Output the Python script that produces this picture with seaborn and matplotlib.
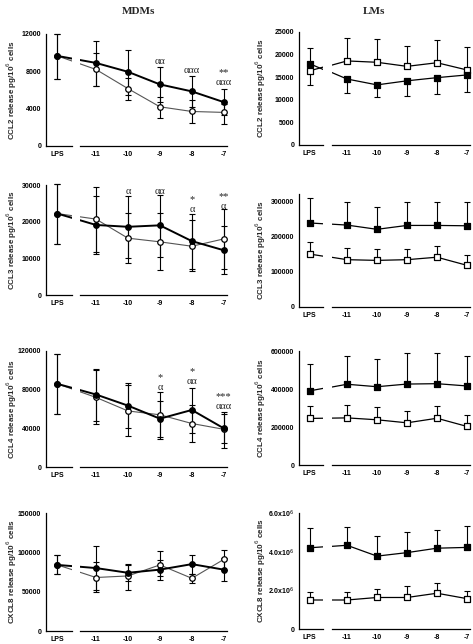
import numpy as np
import pandas as pd
import matplotlib
matplotlib.use("Agg")
import matplotlib.pyplot as plt
import seaborn as sns

sns.set_style("white")
plt.rcParams["font.family"] = ["Liberation Sans", "DejaVu Sans"]

doses = ["LPS", "-11", "-10", "-9", "-8", "-7"]

# CCL2 - MDMs (filled circles / open circles)
ccl2_mdm_filled = [9650, 8900, 7950, 6600, 5850, 4700]
ccl2_mdm_filled_hi = [12000, 11300, 10300, 8500, 7500, 6100]
ccl2_mdm_filled_lo = [7200, 6400, 5500, 4700, 4200, 3300]
ccl2_mdm_open = [9650, 8200, 6150, 4200, 3700, 3600]
ccl2_mdm_open_hi = [12000, 10000, 7300, 5300, 4900, 4500]
ccl2_mdm_open_lo = [7200, 6400, 4900, 3000, 2500, 2400]

# CCL2 - LMs (filled squares / open squares)
ccl2_lm_filled = [18000, 14600, 13300, 14200, 14900, 15500]
ccl2_lm_filled_hi = [21500, 14600, 13300, 14200, 14900, 15500]
ccl2_lm_filled_lo = [18000, 11600, 10600, 10800, 11300, 11800]
ccl2_lm_open = [16400, 18600, 18300, 17400, 18200, 16600]
ccl2_lm_open_hi = [16400, 23600, 23500, 21800, 23300, 21600]
ccl2_lm_open_lo = [13300, 18600, 18300, 17400, 18200, 16600]

# CCL3 - MDMs
ccl3_mdm_filled = [22200, 19100, 18600, 19000, 14700, 12200]
ccl3_mdm_filled_hi = [30300, 29500, 27000, 27300, 22200, 18800]
ccl3_mdm_filled_lo = [14000, 11200, 10200, 6900, 7000, 5600]
ccl3_mdm_open = [22200, 20700, 15500, 14500, 13300, 15300]
ccl3_mdm_open_hi = [30300, 27100, 22300, 22300, 20500, 23400]
ccl3_mdm_open_lo = [14000, 11800, 8800, 10500, 6600, 7200]

# CCL3 - LMs
ccl3_lm_filled = [238000, 232000, 220000, 231000, 231000, 230000]
ccl3_lm_filled_hi = [310000, 297000, 282000, 296000, 297000, 297000]
ccl3_lm_open = [150000, 134000, 132000, 134000, 141000, 118000]
ccl3_lm_open_hi = [185000, 167000, 165000, 163000, 173000, 148000]

# CCL4 - MDMs
ccl4_mdm_filled = [86000, 75000, 63500, 50000, 59000, 40000]
ccl4_mdm_filled_hi = [117000, 101000, 87000, 78000, 82000, 55000]
ccl4_mdm_filled_lo = [55000, 45000, 32000, 31000, 35000, 25000]
ccl4_mdm_open = [86000, 72000, 58000, 54000, 45000, 39000]
ccl4_mdm_open_hi = [117000, 100000, 85000, 68000, 64000, 57000]
ccl4_mdm_open_lo = [55000, 48000, 40000, 29000, 26000, 20000]

# CCL4 - LMs
ccl4_lm_filled = [390000, 425000, 412000, 426000, 428000, 416000]
ccl4_lm_filled_hi = [530000, 572000, 560000, 592000, 592000, 576000]
ccl4_lm_open = [245000, 248000, 238000, 222000, 246000, 203000]
ccl4_lm_open_hi = [310000, 316000, 305000, 282000, 312000, 265000]

# CXCL8 - MDMs
cxcl8_mdm_filled = [84000, 80000, 74000, 78000, 85000, 78000]
cxcl8_mdm_filled_hi = [97000, 108000, 85000, 90000, 97000, 93000]
cxcl8_mdm_filled_lo = [72000, 52000, 63000, 65000, 72000, 63000]
cxcl8_mdm_open = [84000, 68000, 70000, 84000, 67000, 91000]
cxcl8_mdm_open_hi = [97000, 88000, 84000, 102000, 72000, 103000]
cxcl8_mdm_open_lo = [72000, 50000, 52000, 70000, 61000, 78000]

# CXCL8 - LMs
cxcl8_lm_filled = [4.20e6, 4.33e6, 3.77e6, 3.95e6, 4.18e6, 4.22e6]
cxcl8_lm_filled_hi = [5.20e6, 5.30e6, 4.82e6, 5.00e6, 5.10e6, 5.35e6]
cxcl8_lm_open = [1.50e6, 1.50e6, 1.63e6, 1.63e6, 1.85e6, 1.57e6]
cxcl8_lm_open_hi = [1.92e6, 1.92e6, 2.08e6, 2.20e6, 2.40e6, 1.98e6]

# x positions on a common axis, LPS sits left of the axis break
xpos = [-12.2, -11, -10, -9, -8, -7]

W, H = 473, 644
fig = plt.figure(figsize=(W / 100, H / 100), dpi=100)

serif = ["Liberation Serif", "DejaVu Serif"]


def add_ax(x0, x1, ytop, ybot):
    return fig.add_axes([x0 / W, 1 - ybot / H, (x1 - x0) / W, (ybot - ytop) / H])


def draw_series(ax_lps, ax_main, vals, hi, lo, marker, face, lw, lcolor, msize):
    # line through all points, clipped by each half of the broken axis
    for ax in (ax_lps, ax_main):
        sns.lineplot(x=xpos, y=vals, ax=ax, color=lcolor, linewidth=lw, zorder=3)
    for ax, sl in [(ax_lps, slice(0, 1)), (ax_main, slice(1, 6))]:
        x = np.array(xpos[sl])
        v = np.array(vals[sl])
        h = np.array(hi[sl])
        l = np.array(lo[sl])
        ax.errorbar(x, v, yerr=[v - l, h - v], fmt="none", ecolor="black",
                    elinewidth=0.8, capsize=2.2, capthick=0.8, zorder=2,
                    clip_on=False)
        sns.scatterplot(x=x, y=v, ax=ax, marker=marker, s=msize, color=face,
                        edgecolor="black", linewidth=0.9, zorder=4, clip_on=False)


def mdm_series(f, fh, fl, o, oh, ol):
    return [
        (o, oh, ol, "white", 0.8, "#555555", 16),
        (f, fh, fl, "black", 1.4, "black", 16),
    ]


def lm_series(f, fh, fl, o, oh, ol):
    return [
        (o, oh, ol, "white", 0.9, "black", 14),
        (f, fh, fl, "black", 0.9, "black", 14),
    ]


def panel(col, ytop, ybot, ymax, yticks, yticklabels, ylabel, series, marker, notes=()):
    if col == 0:
        ax_lps = add_ax(46, 72, ytop, ybot)
        ax_main = add_ax(80, 227, ytop, ybot)
        ylab_x = 12
    else:
        ax_lps = add_ax(299, 323, ytop, ybot)
        ax_main = add_ax(332, 470, ytop, ybot)
        ylab_x = 261

    for vals, hi, lo, face, lw, lcolor, msize in series:
        draw_series(ax_lps, ax_main, vals, hi, lo, marker, face, lw, lcolor, msize)

    ax_lps.set_xlim(-12.55, -11.75)
    ax_main.set_xlim(-11.5, -6.9)
    for ax in (ax_lps, ax_main):
        ax.set_ylim(0, ymax)
        ax.set_facecolor("none")
        ax.spines["top"].set_visible(False)
        ax.spines["right"].set_visible(False)
        for sp in ax.spines.values():
            sp.set_linewidth(0.9)
            sp.set_color("black")
        ax.tick_params(direction="out", length=2.5, width=0.8, labelsize=5,
                       pad=1, colors="black")
        ax.set_xlabel("")
        ax.set_ylabel("")
    ax_main.spines["left"].set_visible(False)
    ax_main.set_yticks([])

    ax_lps.set_xticks([-12.55, -12.2, -11.75])
    ax_lps.set_xticklabels(["", doses[0], ""], fontweight="bold")
    ax_main.set_xticks([-11.5] + xpos[1:])
    ax_main.set_xticklabels([""] + doses[1:], fontweight="bold")
    ax_lps.set_yticks(yticks)
    ax_lps.set_yticklabels(yticklabels, fontweight="bold")

    fig.text(ylab_x / W, 1 - (ytop + ybot) / 2 / H, ylabel, rotation=90,
             ha="center", va="center", fontsize=5.8, fontweight="bold")

    for x, y, txt in notes:
        ax_main.text(x, y, txt, ha="center", va="center", fontsize=7.5,
                     family=serif, zorder=5)


unit = " release pg/10$^6$ cells"

# MDMs column
panel(0, 34, 146, 12000, [0, 4000, 8000, 12000], ["0", "4000", "8000", "12000"],
      "CCL2" + unit,
      mdm_series(ccl2_mdm_filled, ccl2_mdm_filled_hi, ccl2_mdm_filled_lo,
                 ccl2_mdm_open, ccl2_mdm_open_hi, ccl2_mdm_open_lo), "o",
      [(-9, 9000, "αα"), (-8, 8040, "ααα"), (-7, 7900, "**"), (-7, 6800, "ααα")])

panel(0, 185, 295, 30000, [0, 10000, 20000, 30000], ["0", "10000", "20000", "30000"],
      "CCL3" + unit,
      mdm_series(ccl3_mdm_filled, ccl3_mdm_filled_hi, ccl3_mdm_filled_lo,
                 ccl3_mdm_open, ccl3_mdm_open_hi, ccl3_mdm_open_lo), "o",
      [(-10, 28200, "α"), (-9, 28200, "αα"), (-8, 25900, "*"), (-8, 23300, "α"),
       (-7, 26900, "**"), (-7, 24200, "α")])

panel(0, 351, 467, 120000, [0, 40000, 80000, 120000], ["0", "40000", "80000", "120000"],
      "CCL4" + unit,
      mdm_series(ccl4_mdm_filled, ccl4_mdm_filled_hi, ccl4_mdm_filled_lo,
                 ccl4_mdm_open, ccl4_mdm_open_hi, ccl4_mdm_open_lo), "o",
      [(-9, 92500, "*"), (-9, 82000, "α"), (-8, 99000, "*"), (-8, 88500, "αα"),
       (-7, 72500, "***"), (-7, 62500, "ααα")])

panel(0, 513, 631, 150000, [0, 50000, 100000, 150000], ["0", "50000", "100000", "150000"],
      "CXCL8" + unit,
      mdm_series(cxcl8_mdm_filled, cxcl8_mdm_filled_hi, cxcl8_mdm_filled_lo,
                 cxcl8_mdm_open, cxcl8_mdm_open_hi, cxcl8_mdm_open_lo), "o")

# LMs column
panel(1, 32, 145, 25000, [0, 5000, 10000, 15000, 20000, 25000],
      ["0", "5000", "10000", "15000", "20000", "25000"],
      "CCL2" + unit,
      lm_series(ccl2_lm_filled, ccl2_lm_filled_hi, ccl2_lm_filled_lo,
                ccl2_lm_open, ccl2_lm_open_hi, ccl2_lm_open_lo), "s")

panel(1, 194, 307, 320000, [0, 100000, 200000, 300000],
      ["0", "100000", "200000", "300000"],
      "CCL3" + unit,
      lm_series(ccl3_lm_filled, ccl3_lm_filled_hi, ccl3_lm_filled,
                ccl3_lm_open, ccl3_lm_open_hi, ccl3_lm_open), "s")

panel(1, 351, 465, 600000, [0, 200000, 400000, 600000],
      ["0", "200000", "400000", "600000"],
      "CCL4" + unit,
      lm_series(ccl4_lm_filled, ccl4_lm_filled_hi, ccl4_lm_filled,
                ccl4_lm_open, ccl4_lm_open_hi, ccl4_lm_open), "s")

panel(1, 513, 629, 6.0e6, [0, 2e6, 4e6, 6e6],
      ["0", "2.0x10$^6$", "4.0x10$^6$", "6.0x10$^6$"],
      "CXCL8" + unit,
      lm_series(cxcl8_lm_filled, cxcl8_lm_filled_hi, cxcl8_lm_filled,
                cxcl8_lm_open, cxcl8_lm_open_hi, cxcl8_lm_open), "s")

fig.text(138 / W, 1 - 12 / H, "MDMs", ha="center", va="center", fontsize=8,
         fontweight="bold", family=serif)
fig.text(374 / W, 1 - 12 / H, "LMs", ha="center", va="center", fontsize=8,
         fontweight="bold", family=serif)

fig.savefig("out.png", dpi=100)
